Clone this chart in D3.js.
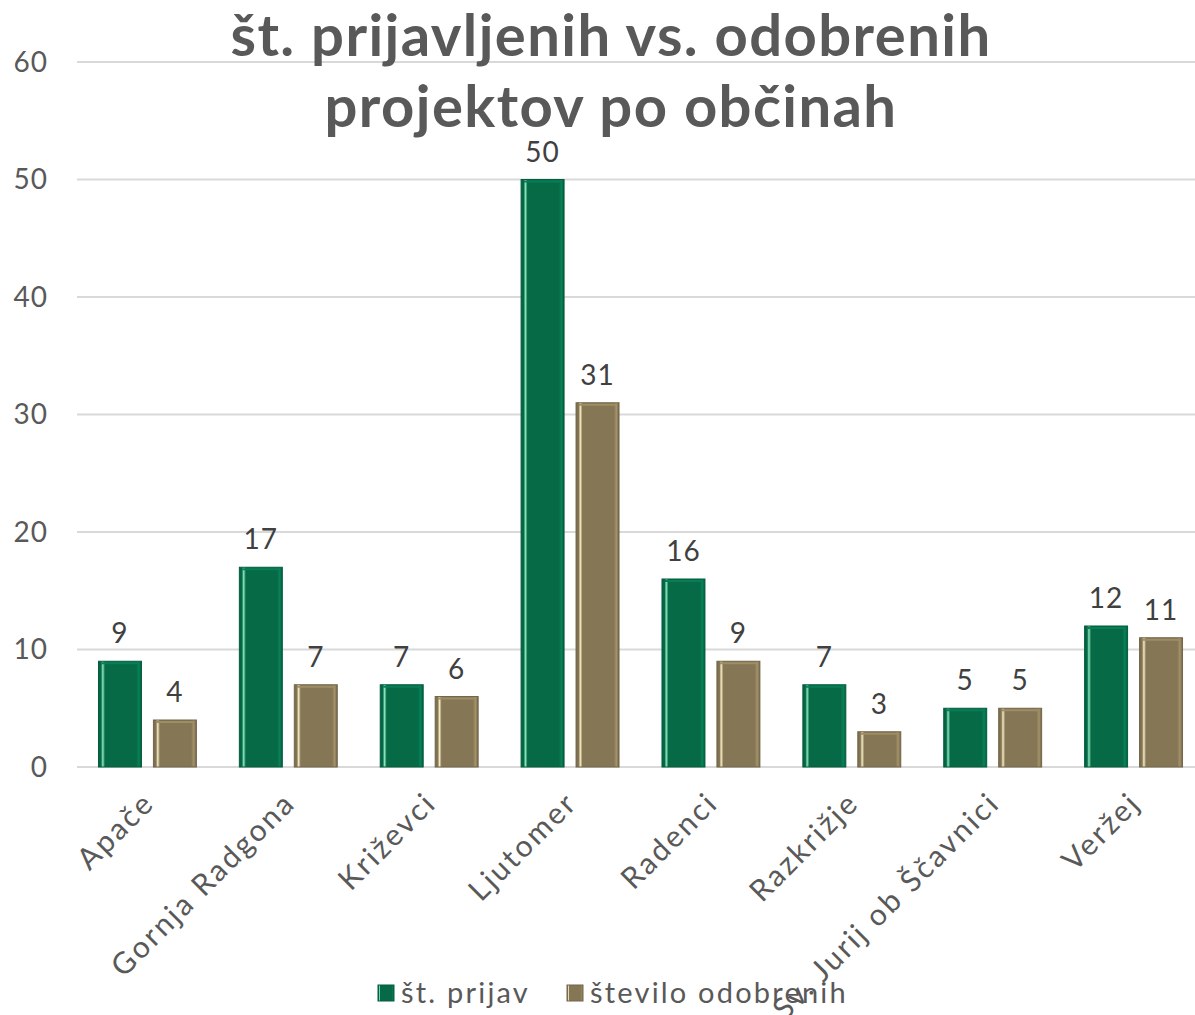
<!DOCTYPE html>
<html>
<head>
<meta charset="utf-8">
<script src="https://cdn.jsdelivr.net/npm/d3@7"></script>
<style>
  body { margin: 0; background: #fff; }
  svg { display: block; font-family: "Century Gothic", Lato, "DejaVu Sans", sans-serif; }
</style>
</head>
<body>
<svg id="chart" width="1195" height="1015"></svg>
<script>
// chart data
const categories = ['Apače', 'Gornja Radgona', 'Križevci', 'Ljutomer', 'Radenci', 'Razkrižje', 'Sv. Jurij ob Ščavnici', 'Veržej'];
const series = ['št. prijav', 'število odobrenih'];
const prijave = [9, 17, 7, 50, 16, 7, 5, 12];
const odobreni = [4, 7, 6, 31, 9, 3, 5, 11];
const yTicks = [0, 10, 20, 30, 40, 50, 60];
const titleLines = ['št. prijavljenih vs. odobrenih', 'projektov po občinah'];

const colors = ['#066a47', '#857655'];
const highlights = ['#8ae6bc', '#f5ebc2'];

const svg = d3.select('#chart');
const W = 1195;

const y = d3.scaleLinear().domain([0, 60]).range([767, 62]);
const x = d3.scaleBand().domain(categories).range([77, 1204]);
const bw = x.bandwidth();
const x1 = d3.scaleBand().domain(series)
    .range([bw * 0.1525, bw * 0.8475])
    .paddingInner(0.218);

// bevel gradients
const defs = svg.append('defs');
series.forEach((s, i) => {
    const g = defs.append('linearGradient')
        .attr('id', 'bev' + i)
        .attr('x1', '0%').attr('x2', '100%');
    g.append('stop').attr('offset', '0%').attr('stop-color', d3.color(colors[i]).darker(0.3));
    g.append('stop').attr('offset', '6%').attr('stop-color', colors[i]);
    g.append('stop').attr('offset', '10%').attr('stop-color', highlights[i]);
    g.append('stop').attr('offset', '15%').attr('stop-color', colors[i]);
    g.append('stop').attr('offset', '88%').attr('stop-color', colors[i]);
    g.append('stop').attr('offset', '94%').attr('stop-color', d3.color(colors[i]).brighter(0.6));
    g.append('stop').attr('offset', '100%').attr('stop-color', d3.color(colors[i]).darker(0.5));
});

// gridlines
svg.append('g')
    .selectAll('line')
    .data(yTicks)
    .join('line')
    .attr('x1', 77)
    .attr('x2', W)
    .attr('y1', d => y(d))
    .attr('y2', d => y(d))
    .attr('stroke', '#d9d9d9')
    .attr('stroke-width', 2);

// y axis labels
svg.append('g')
    .selectAll('text')
    .data(yTicks)
    .join('text')
    .attr('x', 48)
    .attr('y', d => y(d))
    .attr('dy', '0.35em')
    .attr('text-anchor', 'end')
    .attr('fill', '#595959')
    .style('font-size', '28px')
    .style('letter-spacing', '1px')
    .text(d => d);

// bars
const rows = categories.map((c, i) => ({ cat: c, vals: [prijave[i], odobreni[i]] }));
const groups = svg.append('g')
    .selectAll('g')
    .data(rows)
    .join('g')
    .attr('transform', d => `translate(${x(d.cat)},0)`);

groups.selectAll('rect')
    .data(d => d.vals.map((v, i) => ({ s: series[i], i, v })))
    .join('rect')
    .attr('x', d => x1(d.s))
    .attr('y', d => y(d.v))
    .attr('width', x1.bandwidth())
    .attr('height', d => y(0) - y(d.v))
    .attr('fill', d => `url(#bev${d.i})`)
    .attr('stroke', d => d3.color(colors[d.i]).darker(0.4))
    .attr('stroke-width', 1);

// top bevel highlight
groups.selectAll('line.top')
    .data(d => d.vals.map((v, i) => ({ s: series[i], i, v })))
    .join('line')
    .attr('class', 'top')
    .attr('x1', d => x1(d.s) + 3)
    .attr('x2', d => x1(d.s) + x1.bandwidth() - 3)
    .attr('y1', d => y(d.v) + 2)
    .attr('y2', d => y(d.v) + 2)
    .attr('stroke', d => d3.color(colors[d.i]).brighter(0.5))
    .attr('stroke-width', 2);

// data labels
groups.selectAll('text')
    .data(d => d.vals.map((v, i) => ({ s: series[i], i, v })))
    .join('text')
    .attr('x', d => x1(d.s) + x1.bandwidth() / 2)
    .attr('y', d => y(d.v) - 18)
    .attr('text-anchor', 'middle')
    .attr('fill', '#404040')
    .style('font-size', '28px')
    .style('letter-spacing', '1px')
    .text(d => d.v);

// category labels
svg.append('g')
    .selectAll('text')
    .data(categories)
    .join('text')
    .attr('transform', d => `translate(${x(d) + bw / 2 - 6},${790}) rotate(-45)`)
    .attr('text-anchor', 'end')
    .attr('dy', '0.7em')
    .attr('fill', '#595959')
    .style('font-size', '30px')
    .style('letter-spacing', '2.5px')
    .text(d => d);

// title
svg.append('g')
    .selectAll('text')
    .data(titleLines)
    .join('text')
    .attr('x', 611)
    .attr('y', (d, i) => 56 + i * 71)
    .attr('text-anchor', 'middle')
    .attr('fill', '#595959')
    .style('font-size', '58px')
    .style('font-weight', 'bold')
    .style('letter-spacing', '1.4px')
    .text(d => d);

// legend
const legendItems = [
    { name: series[0], i: 0, x: 378 },
    { name: series[1], i: 1, x: 567 }
];
const legend = svg.append('g');
legendItems.forEach(it => {
    legend.append('rect')
        .attr('x', it.x)
        .attr('y', 985)
        .attr('width', 16)
        .attr('height', 16)
        .attr('fill', `url(#bev${it.i})`)
        .attr('stroke', d3.color(colors[it.i]).darker(0.4));
    legend.append('text')
        .attr('x', it.x + 23)
        .attr('y', 993)
        .attr('dy', '0.35em')
        .attr('fill', '#595959')
        .style('font-size', '29px')
        .style('letter-spacing', '2.2px')
        .text(it.name);
});
</script>
</body>
</html>
